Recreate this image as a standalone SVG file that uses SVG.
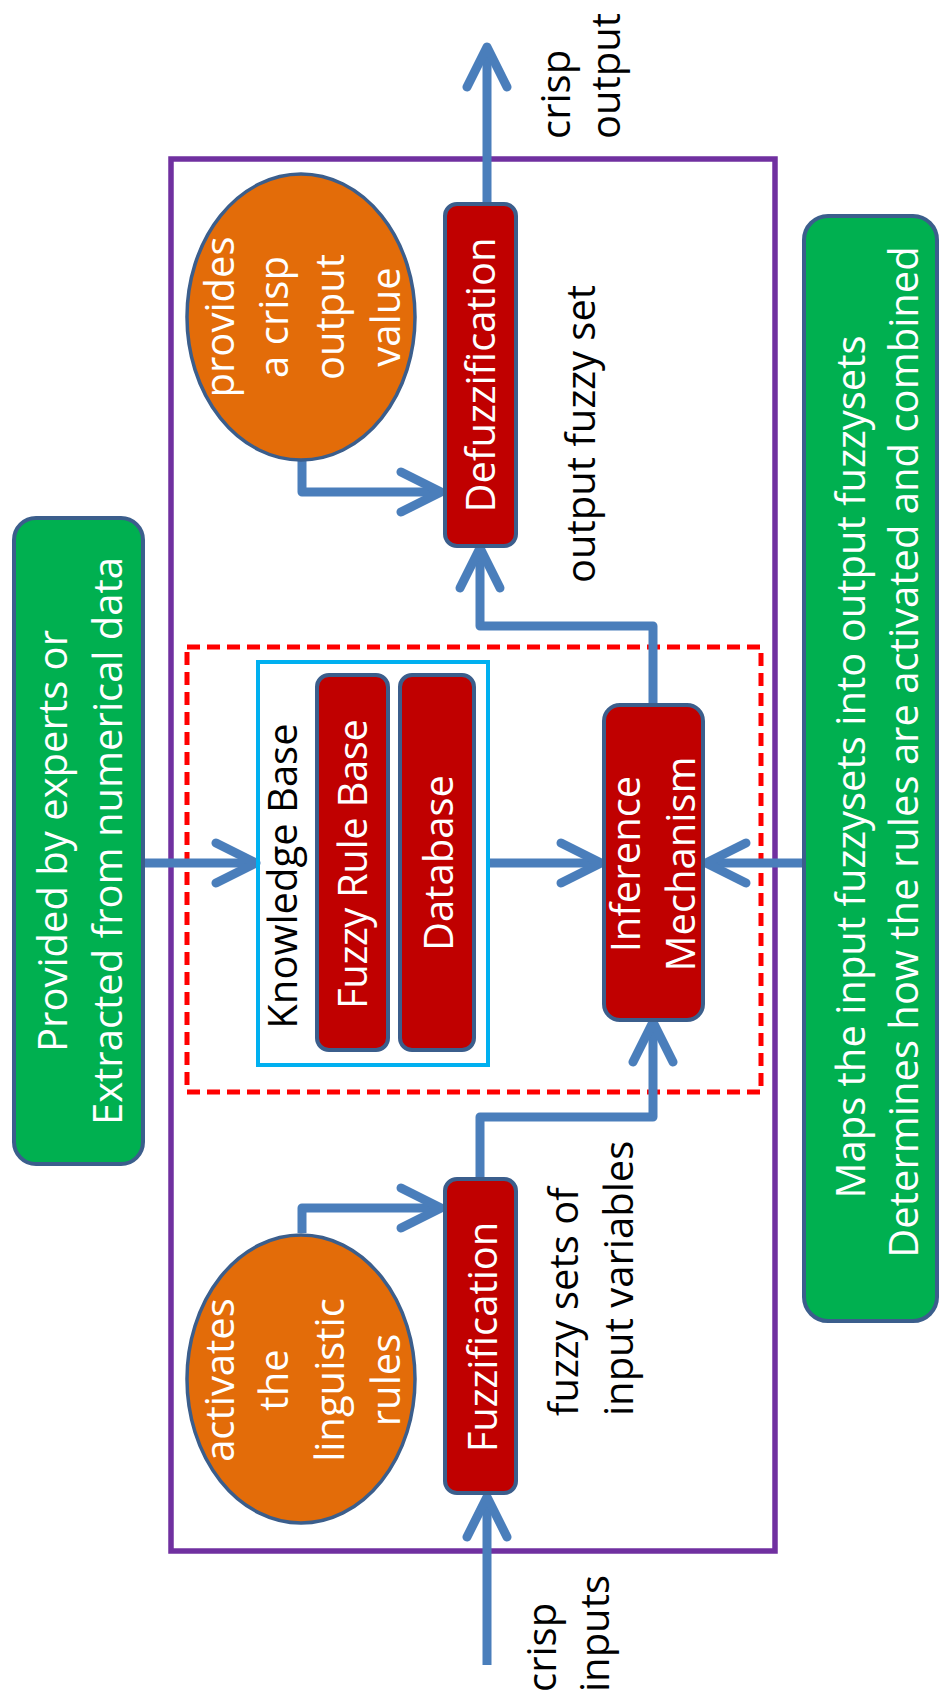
<svg xmlns="http://www.w3.org/2000/svg" width="940" height="1697" viewBox="0 0 940 1697">
<style>
.t{font-family:'Open Sans','Noto Sans',sans-serif;font-size:40px}
.w{fill:#FFFFFF}
.k{fill:#000000}
.mid{text-anchor:middle}
.st{text-anchor:start}
.conn{fill:none;stroke:#4A7EBB;stroke-width:9;stroke-linejoin:round;marker-end:url(#ah)}
.red{fill:#C00000;stroke:#3B5E8C;stroke-width:4}
.green{fill:#00B050;stroke:#3B5E8C;stroke-width:4}
.orange{fill:#E36C09;stroke:#3B5E8C;stroke-width:3.5}
</style>
<defs>
<marker id="ah" markerUnits="userSpaceOnUse" markerWidth="70" markerHeight="70" viewBox="-55 -35 70 70" refX="0" refY="0" orient="auto" overflow="visible">
<path d="M-40,-20 L0,0 L-40,20" fill="none" stroke="#4A7EBB" stroke-width="9" stroke-linecap="round" stroke-linejoin="round"/>
</marker>
</defs>
<rect width="940" height="1697" fill="#FFFFFF"/>

<g id="system-frame">
<rect x="171" y="159" width="604" height="1392" fill="none" stroke="#7030A0" stroke-width="5.5"/>
</g>
<g id="inference-frame">
<rect x="187" y="647" width="574" height="445" fill="none" stroke="#FF0000" stroke-width="5" stroke-dasharray="13 7"/>
</g>

<g id="connectors">
<path class="conn" d="M487,1665 L487,1497"/>
<path class="conn" d="M302,1233 L302,1208 L441,1208"/>
<path class="conn" d="M480,1179 L480,1117 L653,1117 L653,1022"/>
<path class="conn" d="M144,863 L256,863"/>
<path class="conn" d="M490,863 L601,863"/>
<path class="conn" d="M804,863 L706,863"/>
<path class="conn" d="M653,705 L653,626 L480,626 L480,548"/>
<path class="conn" d="M302,460 L302,492 L441,492"/>
<path class="conn" d="M487,204 L487,47"/>
</g>

<g id="expert-source">
<rect class="green" x="14" y="518" width="129" height="646" rx="22"/>
<text class="t w mid" transform="translate(78,841) rotate(-90)"><tspan x="0" y="-11">Provided by experts or</tspan><tspan x="0" y="44">Extracted from numerical data</tspan></text>
</g>

<g id="inference-note">
<rect class="green" x="804" y="216" width="133" height="1105" rx="24"/>
<text class="t w mid" transform="translate(870,760) rotate(-90)"><tspan x="-7" y="-5">Maps the input fuzzysets into output fuzzysets</tspan><tspan x="8" y="48">Determines how the rules are activated and combined</tspan></text>
</g>

<g id="knowledge-base">
<rect x="258" y="662" width="230" height="403" fill="none" stroke="#00B0F0" stroke-width="4"/>
<text class="t k mid" transform="translate(297,876) rotate(-90)">Knowledge Base</text>
</g>

<g id="fuzzy-rule-base">
<rect class="red" x="317" y="675" width="71" height="375" rx="12"/>
<text class="t w mid" transform="translate(367,864) rotate(-90)" textLength="290" lengthAdjust="spacing">Fuzzy Rule Base</text>
</g>

<g id="database">
<rect class="red" x="400" y="675" width="74" height="375" rx="12"/>
<text class="t w mid" transform="translate(453,863) rotate(-90)">Database</text>
</g>

<g id="inference-mechanism">
<rect class="red" x="604" y="705" width="99" height="315" rx="16"/>
<text class="t w mid" transform="translate(654,864) rotate(-90)"><tspan x="0" y="-14">Inference</tspan><tspan x="0" y="41">Mechanism</tspan></text>
</g>

<g id="fuzzification">
<rect class="red" x="445" y="1179" width="71" height="314" rx="12"/>
<text class="t w mid" transform="translate(497,1337) rotate(-90)">Fuzzification</text>
</g>

<g id="defuzzification">
<rect class="red" x="445" y="204" width="71" height="342" rx="12"/>
<text class="t w mid" transform="translate(495,375) rotate(-90)">Defuzzification</text>
</g>

<g id="fuzzification-note">
<ellipse class="orange" cx="301" cy="1379" rx="114" ry="144"/>
<text class="t w mid" transform="translate(301,1380) rotate(-90)"><tspan x="0" y="-67">activates</tspan><tspan x="0" y="-13">the</tspan><tspan x="0" y="43">linguistic</tspan><tspan x="0" y="99">rules</tspan></text>
</g>

<g id="defuzzification-note">
<ellipse class="orange" cx="301" cy="317" rx="114" ry="143"/>
<text class="t w mid" transform="translate(301,317) rotate(-90)"><tspan x="0" y="-67">provides</tspan><tspan x="0" y="-13">a crisp</tspan><tspan x="0" y="43">output</tspan><tspan x="0" y="99">value</tspan></text>
</g>

<g id="labels">
<text class="t k st" transform="translate(556,1692) rotate(-90)"><tspan x="0" y="0">crisp</tspan><tspan x="0" y="53">inputs</tspan></text>
<text class="t k st" transform="translate(578,1416) rotate(-90)"><tspan x="0" y="0">fuzzy sets of</tspan><tspan x="0" y="55">input variables</tspan></text>
<text class="t k mid" transform="translate(595,434) rotate(-90)">output fuzzy set</text>
<text class="t k st" transform="translate(570,139) rotate(-90)"><tspan x="0" y="0">crisp</tspan><tspan x="0" y="50">output</tspan></text>
</g>
</svg>
